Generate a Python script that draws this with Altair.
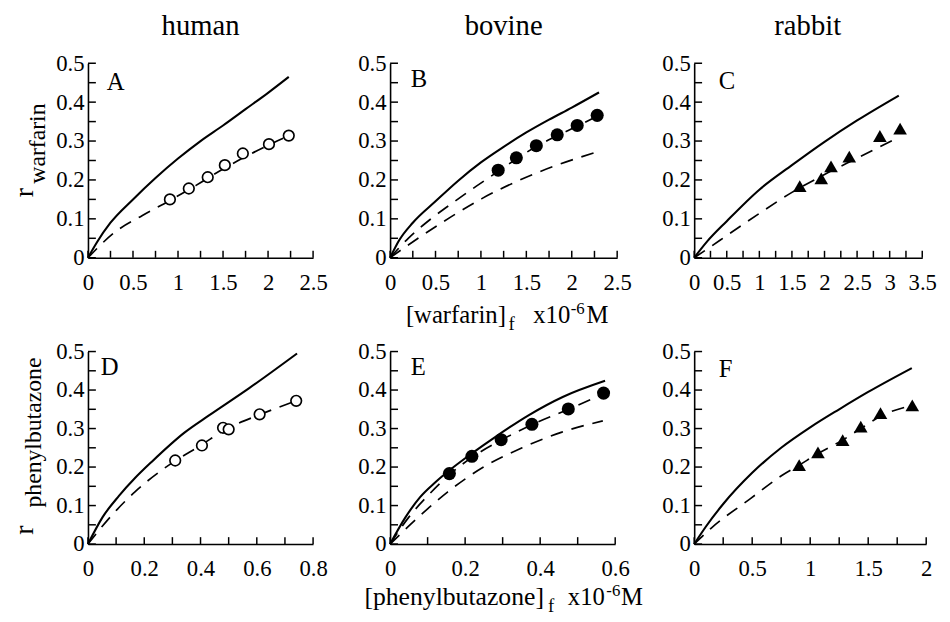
import altair as alt
import pandas as pd

FONT = "Liberation Serif"
TICK_FS = 23

# ---------------- data ----------------
# Panel A  human / warfarin
A_solid_x = [0, 0.1, 0.25, 0.5, 0.75, 1.0, 1.25, 1.5, 1.75, 2.0, 2.23]
A_solid_y = [0, 0.04, 0.09, 0.15, 0.205, 0.255, 0.30, 0.34, 0.382, 0.424, 0.465]
A_dash_x = [0, 0.3, 0.6, 0.9, 1.2, 1.5, 1.8, 2.1, 2.23]
A_dash_y = [0, 0.066, 0.108, 0.146, 0.186, 0.228, 0.266, 0.3, 0.314]
A_pts_x = [0.91, 1.12, 1.33, 1.52, 1.72, 2.01, 2.23]
A_pts_y = [0.15, 0.178, 0.207, 0.238, 0.268, 0.292, 0.314]

# Panel B  bovine / warfarin
B_solid_x = [0, 0.1, 0.25, 0.5, 0.75, 1.0, 1.25, 1.5, 1.75, 2.0, 2.3]
B_solid_y = [0, 0.045, 0.09, 0.145, 0.198, 0.245, 0.285, 0.322, 0.355, 0.386, 0.425]
B_dash1_x = [0, 0.2, 0.45, 0.7, 0.95, 1.19, 1.39, 1.61, 1.84, 2.06, 2.28]
B_dash1_y = [0, 0.05, 0.1, 0.143, 0.184, 0.222, 0.254, 0.286, 0.314, 0.338, 0.364]
B_dash2_x = [0, 0.32, 0.67, 1.01, 1.43, 1.86, 2.25]
B_dash2_y = [0, 0.052, 0.105, 0.152, 0.2, 0.24, 0.27]
B_pts_x = [1.19, 1.39, 1.61, 1.84, 2.06, 2.28]
B_pts_y = [0.225, 0.257, 0.288, 0.316, 0.34, 0.366]

# Panel C  rabbit / warfarin
C_solid_x = [0, 0.2, 0.5, 1.0, 1.5, 2.0, 2.5, 3.14]
C_solid_y = [0, 0.042, 0.094, 0.175, 0.238, 0.298, 0.353, 0.417]
C_dash_x = [0, 0.25, 0.5, 1.0, 1.5, 2.0, 2.5, 3.05]
C_dash_y = [0, 0.028, 0.057, 0.114, 0.168, 0.214, 0.256, 0.302]
C_pts_x = [1.62, 1.95, 2.10, 2.38, 2.85, 3.16]
C_pts_y = [0.184, 0.204, 0.235, 0.26, 0.313, 0.332]

# Panel D  human / phenylbutazone
D_solid_x = [0, 0.052, 0.11, 0.168, 0.227, 0.344, 0.43, 0.573, 0.743]
D_solid_y = [0, 0.07, 0.125, 0.172, 0.214, 0.29, 0.334, 0.405, 0.495]
D_dash_x = [0, 0.08, 0.166, 0.268, 0.31, 0.40, 0.49, 0.61, 0.74]
D_dash_y = [0, 0.071, 0.135, 0.195, 0.216, 0.256, 0.298, 0.336, 0.372]
D_pts_x = [0.31, 0.405, 0.48, 0.50, 0.61, 0.74]
D_pts_y = [0.217, 0.256, 0.302, 0.298, 0.337, 0.372]

# Panel E  bovine / phenylbutazone
E_solid_x = [0, 0.04, 0.08, 0.12, 0.16, 0.22, 0.28, 0.37, 0.46, 0.573]
E_solid_y = [0, 0.068, 0.122, 0.16, 0.193, 0.237, 0.278, 0.335, 0.382, 0.424]
E_dash1_x = [0, 0.05, 0.1, 0.158, 0.218, 0.296, 0.378, 0.475, 0.569]
E_dash1_y = [0, 0.07, 0.125, 0.18, 0.225, 0.27, 0.31, 0.35, 0.39]
E_dash2_x = [0, 0.07, 0.153, 0.249, 0.352, 0.456, 0.567]
E_dash2_y = [0, 0.065, 0.135, 0.2, 0.25, 0.29, 0.32]
E_pts_x = [0.158, 0.218, 0.296, 0.378, 0.475, 0.569]
E_pts_y = [0.183, 0.228, 0.271, 0.311, 0.351, 0.392]

# Panel F  rabbit / phenylbutazone
F_solid_x = [0, 0.1, 0.25, 0.5, 0.75, 1.0, 1.25, 1.5, 1.876]
F_solid_y = [0, 0.045, 0.104, 0.185, 0.25, 0.303, 0.35, 0.395, 0.457]
F_dash_x = [0, 0.145, 0.485, 0.755, 0.905, 1.067, 1.28, 1.436, 1.606, 1.88]
F_dash_y = [0, 0.041, 0.118, 0.178, 0.205, 0.235, 0.27, 0.3, 0.332, 0.36]
F_pts_x = [0.905, 1.067, 1.28, 1.436, 1.606, 1.88]
F_pts_y = [0.205, 0.238, 0.27, 0.305, 0.34, 0.36]

# axis tick values
Y_LABELS = [0, 0.1, 0.2, 0.3, 0.4, 0.5]
Y_TICKS = [0, 0.05, 0.1, 0.15, 0.2, 0.25, 0.3, 0.35, 0.4, 0.45, 0.5]
X25_LABELS = [0, 0.5, 1, 1.5, 2, 2.5]
X25_TICKS = [0, 0.25, 0.5, 0.75, 1, 1.25, 1.5, 1.75, 2, 2.25, 2.5]
X35_LABELS = [0, 0.5, 1, 1.5, 2, 2.5, 3, 3.5]
X35_TICKS = [0, 0.25, 0.5, 0.75, 1, 1.25, 1.5, 1.75, 2, 2.25, 2.5, 2.75, 3, 3.25, 3.5]
X08_LABELS = [0, 0.2, 0.4, 0.6, 0.8]
X08_TICKS = [0, 0.1, 0.2, 0.3, 0.4, 0.5, 0.6, 0.7, 0.8]
X06_LABELS = [0, 0.2, 0.4, 0.6]
X06_TICKS = [0, 0.1, 0.2, 0.3, 0.4, 0.5, 0.6]
X2_LABELS = [0, 0.5, 1, 1.5, 2]
X2_TICKS = [0, 0.25, 0.5, 0.75, 1, 1.25, 1.5, 1.75, 2]

DASH = [13, 9]


def frame(xs, ys):
    return pd.DataFrame({"x": xs, "y": ys})


def txt(s, x, y, size, angle=0, align="left", baseline="alphabetic"):
    return alt.Chart(pd.DataFrame({"k": [0]})).mark_text(
        text=s, font=FONT, fontSize=size, color="black", angle=angle,
        align=align, baseline=baseline
    ).encode(x=alt.value(x), y=alt.value(y))


def panel(w, h, xmax, xlabels, xticks, lines, pts, marker, texts):
    xs = alt.Scale(domain=[0, xmax], nice=False, zero=False)
    ys = alt.Scale(domain=[0, 0.5], nice=False, zero=False)
    xax = alt.Axis(values=xlabels, format="~g", ticks=False, tickSize=0, grid=False,
                   title=None, labelFont=FONT, labelFontSize=TICK_FS, labelColor="black",
                   labelPadding=14, labelFlush=False, labelOverlap=False,
                   domainColor="black", domainWidth=1.6)
    yax = alt.Axis(values=Y_LABELS, format="~g", ticks=False, tickSize=0, grid=False,
                   title=None, labelFont=FONT, labelFontSize=TICK_FS, labelColor="black",
                   labelPadding=4, labelOverlap=False, labelFlush=False,
                   domainColor="black", domainWidth=1.6)

    def X():
        return alt.X("x:Q", scale=xs, axis=xax)

    def Y():
        return alt.Y("y:Q", scale=ys, axis=yax)

    layers = []
    for lx, ly, dashed in lines:
        if dashed:
            m = alt.Chart(frame(lx, ly)).mark_line(color="black", strokeWidth=1.7,
                                                   strokeDash=DASH, interpolate="monotone")
        else:
            m = alt.Chart(frame(lx, ly)).mark_line(color="black", strokeWidth=2.1,
                                                   interpolate="monotone")
        layers.append(m.encode(x=X(), y=Y()))

    px, py = pts
    if marker == "open":
        pm = alt.Chart(frame(px, py)).mark_point(shape="circle", filled=True, fill="white",
                                                 stroke="black", strokeWidth=1.7, size=115,
                                                 opacity=1)
    elif marker == "filled":
        pm = alt.Chart(frame(px, py)).mark_point(shape="circle", filled=True, color="black",
                                                 size=175, opacity=1)
    else:
        pm = alt.Chart(frame(px, py)).mark_point(shape="triangle-up", filled=True,
                                                 color="black", size=190, opacity=1)
    layers.append(pm.encode(x=X(), y=Y()))

    xt = alt.Chart(pd.DataFrame({"x": xticks})).mark_rule(color="black", strokeWidth=1.5).encode(
        x=X(), y=alt.value(h), y2=alt.value(h - 7))
    yt = alt.Chart(pd.DataFrame({"y": Y_TICKS})).mark_rule(color="black", strokeWidth=1.5).encode(
        y=Y(), x=alt.value(0), x2=alt.value(8))
    layers += [xt, yt]
    layers += texts
    return alt.layer(*layers).properties(width=w, height=h)


TOP_H = 197
BOT_H = 195
COL_FS = 29
COL_Y = -29

pA = panel(228, TOP_H, 2.5, X25_LABELS, X25_TICKS,
           [(A_solid_x, A_solid_y, False), (A_dash_x, A_dash_y, True)],
           (A_pts_x, A_pts_y), "open",
           [txt("A", 19, 27, 25),
            txt("human", 114, COL_Y, COL_FS, align="center"),
            txt("r", -56, 131, 28, angle=270, align="center"),
            txt("warfarin", -44, 122, 24, angle=270, align="left")])

pB = panel(230, TOP_H, 2.5, X25_LABELS, X25_TICKS,
           [(B_solid_x, B_solid_y, False), (B_dash1_x, B_dash1_y, True),
            (B_dash2_x, B_dash2_y, True)],
           (B_pts_x, B_pts_y), "filled",
           [txt("B", 21, 24, 25),
            txt("bovine", 115, COL_Y, COL_FS, align="center"),
            txt("[warfarin]", 16, TOP_H + 66, 25),
            txt("f", 120, TOP_H + 73, 19),
            txt("x10", 145, TOP_H + 66, 25),
            txt("-6", 183, TOP_H + 57, 17),
            txt("M", 199, TOP_H + 66, 25)])

pC = panel(231, TOP_H, 3.5, X35_LABELS, X35_TICKS,
           [(C_solid_x, C_solid_y, False), (C_dash_x, C_dash_y, True)],
           (C_pts_x, C_pts_y), "tri",
           [txt("C", 25, 26, 25),
            txt("rabbit", 115, COL_Y, COL_FS, align="center")])

pD = panel(228, BOT_H, 0.8, X08_LABELS, X08_TICKS,
           [(D_solid_x, D_solid_y, False), (D_dash_x, D_dash_y, True)],
           (D_pts_x, D_pts_y), "open",
           [txt("D", 13, 24, 25),
            txt("r", -56, 181, 28, angle=270, align="center"),
            txt("phenylbutazone", -48, 158, 24, angle=270, align="left")])

pE = panel(228, BOT_H, 0.6, X06_LABELS, X06_TICKS,
           [(E_solid_x, E_solid_y, False), (E_dash1_x, E_dash1_y, True),
            (E_dash2_x, E_dash2_y, True)],
           (E_pts_x, E_pts_y), "filled",
           [txt("E", 21, 24, 25),
            txt("[phenylbutazone]", -26, BOT_H + 62, 26),
            txt("f", 160, BOT_H + 69, 19),
            txt("x10", 180, BOT_H + 62, 25),
            txt("-6", 219, BOT_H + 53, 17),
            txt("M", 234, BOT_H + 62, 25)])

pF = panel(235, BOT_H, 2.0, X2_LABELS, X2_TICKS,
           [(F_solid_x, F_solid_y, False), (F_dash_x, F_dash_y, True)],
           (F_pts_x, F_pts_y), "tri",
           [txt("F", 25, 26, 25)])

chart = alt.ConcatChart(
    concat=[pA, pB, pC, pD, pE, pF], columns=3, bounds="flush", align="each",
    spacing={"row": 95, "column": 78},
    padding={"left": 3, "top": 0, "right": 5, "bottom": 3},
).configure(font=FONT, background="white").configure_view(stroke=None)

chart.save("out.html", embed_options={"renderer": "svg", "actions": False})
